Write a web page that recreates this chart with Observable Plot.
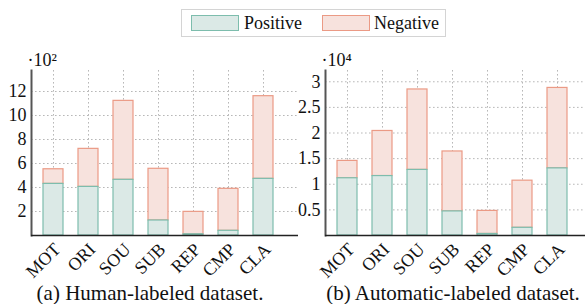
<!DOCTYPE html>
<html><head><meta charset="utf-8">
<script src="https://cdn.jsdelivr.net/npm/d3@7"></script>
<script src="https://cdn.jsdelivr.net/npm/@observablehq/plot@0.6"></script>
<style>
body{margin:0;background:#fff;}
#root{position:relative;width:585px;height:304px;overflow:hidden;font-family:"Liberation Serif","Times New Roman",Times,"DejaVu Serif",serif;color:#111;background:#fff;}
#root svg text{font-family:"Liberation Serif","Times New Roman",Times,"DejaVu Serif",serif;}
.abs{position:absolute;}
#legend{left:181px;top:9px;width:263px;height:26px;border:1px solid #d4d4d4;box-sizing:content-box;}
.sw{position:absolute;top:5px;width:46px;height:14px;}
.lt{position:absolute;top:2px;font-size:18px;line-height:22px;}
.cap{position:absolute;top:283px;font-size:21px;line-height:21px;white-space:nowrap;text-align:center;}
</style></head>
<body><div id="root"></div>
<script>
const categories = ["MOT","ORI","SOU","SUB","REP","CMP","CLA"];
const seriesNames = ["Positive","Negative"];
// Human-labeled dataset (raw counts)
const humanPositive = [430, 405, 464, 125, 10, 39, 472];
const humanNegative = [122, 317, 658, 431, 187, 350, 689];
// Automatic-labeled dataset (raw counts)
const autoPositive = [11170, 11600, 12800, 4700, 300, 1500, 13100];
const autoNegative = [3390, 8800, 15700, 11700, 4500, 9200, 15700];
const humanTicks = [2, 4, 6, 8, 10, 12];
const autoTicks = [0.5, 1, 1.5, 2, 2.5, 3];
const captions = ["(a) Human-labeled dataset.", "(b) Automatic-labeled dataset."];

const serif = "'Liberation Serif', 'Times New Roman', Times, 'DejaVu Serif', serif";
const posFill = "#dbe9e6", posStroke = "#7dbdad";
const negFill = "#f7e2dd", negStroke = "#eb9a85";
const gridStyle = {stroke: "#b0b0b0", strokeOpacity: 1, strokeDasharray: "1.6,2.4", strokeWidth: 0.9};

function makeChart(pos, neg, scale, yMax, ticks, expLabel, width, marginRight) {
  const data = categories.map((c, i) => ({cat: c, pos: pos[i] / scale, total: (pos[i] + neg[i]) / scale}));
  return Plot.plot({
    width, height: 240,
    marginTop: 30, marginBottom: 45, marginLeft: 31, marginRight,
    style: {fontFamily: serif, fontSize: "18px", background: "transparent", color: "#111", overflow: "visible"},
    x: {domain: categories, range: [41.85, 273.15], paddingInner: 0.44, paddingOuter: 0, label: null},
    y: {domain: [0, yMax], label: null},
    marks: [
      Plot.gridY(ticks, gridStyle),
      Plot.gridX(gridStyle),
      Plot.barY(data, {x: "cat", y1: "pos", y2: "total", fill: negFill, stroke: negStroke, strokeWidth: 1.2}),
      Plot.barY(data, {x: "cat", y1: () => 0, y2: "pos", fill: posFill, stroke: posStroke, strokeWidth: 1.2}),
      Plot.axisY(ticks, {tickSize: 0, tickPadding: 5, label: null, fontSize: 18, tickFormat: d => String(d)}),
      Plot.axisX({tickSize: 0, tickRotate: -45, tickPadding: 9, dx: 4, dy: 2, label: null, fontSize: 18}),
      Plot.frame({anchor: "left", stroke: "#555", strokeWidth: 2}),
      Plot.ruleY([0], {stroke: "#222", strokeWidth: 1.4}),
      Plot.text([expLabel], {frameAnchor: "top-left", text: d => d, textAnchor: "start", lineAnchor: "bottom", dx: -4, dy: -5, fontSize: 18})
    ]
  });
}

const root = document.getElementById("root");
const left = makeChart(humanPositive, humanNegative, 100, 13.75, humanTicks, "·10²", 300, 2);
left.style.position = "absolute"; left.style.left = "0px"; left.style.top = "40px";
root.appendChild(left);
const right = makeChart(autoPositive, autoNegative, 10000, 3.22, autoTicks, "·10⁴", 291, 0);
right.style.position = "absolute"; right.style.left = "294px"; right.style.top = "40px";
root.appendChild(right);

const legend = document.createElement("div");
legend.id = "legend"; legend.className = "abs";
const items = [
  {name: seriesNames[0], fill: posFill, stroke: posStroke, sw: 9, tx: 62},
  {name: seriesNames[1], fill: negFill, stroke: negStroke, sw: 140, tx: 192}
];
for (const it of items) {
  const s = document.createElement("div");
  s.className = "sw"; s.style.left = it.sw + "px"; s.style.background = it.fill; s.style.border = "1.3px solid " + it.stroke;
  legend.appendChild(s);
  const t = document.createElement("div");
  t.className = "lt"; t.style.left = it.tx + "px"; t.textContent = it.name;
  legend.appendChild(t);
}
root.appendChild(legend);

const capCenters = [150, 453];
captions.forEach((c, i) => {
  const d = document.createElement("div");
  d.className = "cap"; d.textContent = c;
  d.style.left = (capCenters[i] - 150) + "px"; d.style.width = "300px";
  root.appendChild(d);
});
</script>
</body></html>
